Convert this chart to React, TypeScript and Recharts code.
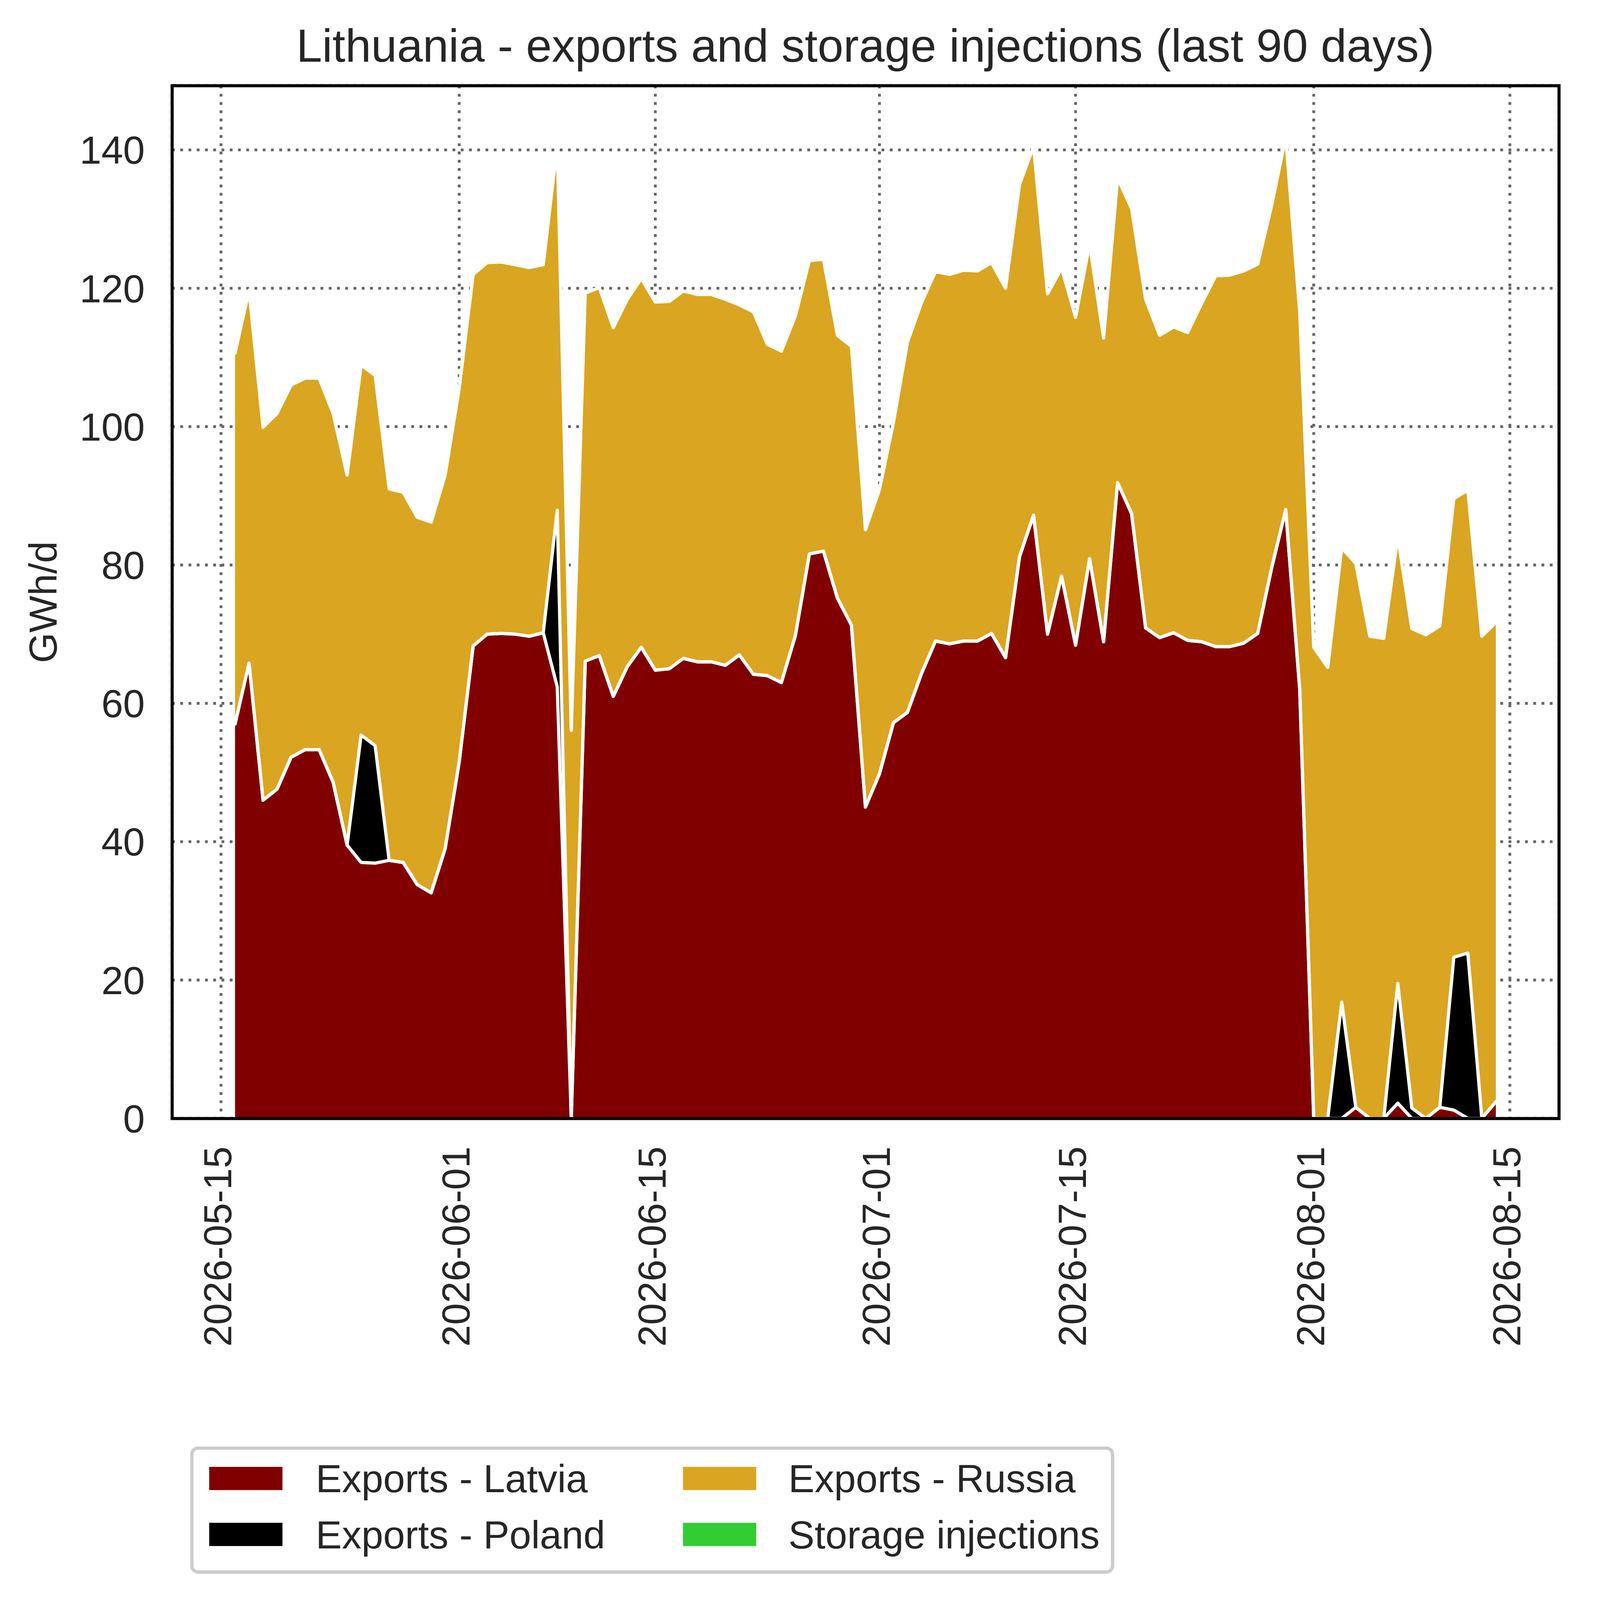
import React from "react";
import { ComposedChart, Area, Line, XAxis, YAxis, CartesianGrid } from "recharts";

const FONT = '"Liberation Sans", Arial, Helvetica, sans-serif';
const TEXT = "#262626";
const PAGE_W = 5675;
const PAGE_H = 5721;

// one value per day, 2026-05-16 .. 2026-08-14
const firstDate = "2026-05-16";
const dayCount = 91;

const latvia = [
  57.0, 65.8, 46.0, 47.6, 52.2, 53.3, 53.3, 48.6, 39.5, 37.0,
  36.9, 37.3, 37.0, 33.8, 32.6, 39.0, 51.5, 68.3, 70.0, 70.1,
  70.0, 69.7, 70.2, 62.4, 0, 66.1, 66.9, 61.0, 65.3, 68.1,
  64.8, 65.0, 66.5, 66.0, 66.0, 65.5, 67.0, 64.2, 64.0, 63.0,
  69.8, 81.6, 82.0, 75.2, 71.3, 45.0, 49.8, 57.2, 58.7, 64.3,
  69.0, 68.6, 69.0, 69.0, 70.1, 66.6, 81.2, 87.2, 70.0, 78.4,
  68.4, 80.9, 68.9, 91.9, 87.4, 70.9, 69.5, 70.2, 69.1, 68.9,
  68.2, 68.2, 68.7, 70.1, 79.6, 88.0, 62.0, 0, 0, 0,
  1.6, 0, 0, 2.2, 0, 0, 1.6, 1.2, 0, 0,
  2.4,
];

const poland = [
  0, 0, 0, 0, 0, 0, 0, 0, 0, 18.4,
  17.0, 0, 0, 0, 0, 0, 0, 0, 0, 0,
  0, 0, 0, 25.5, 0, 0, 0, 0, 0, 0,
  0, 0, 0, 0, 0, 0, 0, 0, 0, 0,
  0, 0, 0, 0, 0, 0, 0, 0, 0, 0,
  0, 0, 0, 0, 0, 0, 0, 0, 0, 0,
  0, 0, 0, 0, 0, 0, 0, 0, 0, 0,
  0, 0, 0, 0, 0, 0, 0, 0, 0, 16.8,
  0, 0, 0, 17.3, 1.5, 0, 0, 22.1, 23.9, 0,
  0,
];

const russia = [
  53.6, 53.9, 53.9, 54.3, 53.8, 53.7, 53.7, 53.3, 53.5, 53.5,
  53.5, 53.7, 53.5, 53.1, 53.6, 54.0, 54.0, 53.7, 53.7, 53.7,
  53.4, 53.3, 53.2, 52.7, 56.1, 53.2, 53.2, 53.3, 53.1, 53.3,
  53.2, 53.1, 53.1, 53.1, 53.1, 52.9, 50.6, 52.4, 47.9, 47.9,
  46.2, 42.4, 42.2, 38.0, 40.3, 40.1, 41.1, 43.4, 53.5, 53.6,
  53.4, 53.4, 53.6, 53.5, 53.6, 53.4, 53.8, 53.3, 49.2, 44.5,
  47.4, 45.5, 43.9, 44.0, 44.1, 47.5, 43.7, 44.2, 44.5, 48.9,
  53.6, 53.7, 53.8, 53.4, 52.4, 53.8, 54.5, 68.1, 65.2, 65.7,
  78.6, 69.7, 69.4, 64.6, 69.3, 69.9, 69.6, 66.3, 66.9, 69.7,
  69.3,
];

const storage = [
  0, 0, 0, 0, 0, 0, 0, 0, 0, 0,
  0, 0, 0, 0, 0, 0, 0, 0, 0, 0,
  0, 0, 0, 0, 0, 0, 0, 0, 0, 0,
  0, 0, 0, 0, 0, 0, 0, 0, 0, 0,
  0, 0, 0, 0, 0, 0, 0, 0, 0, 0,
  0, 0, 0, 0, 0, 0, 0, 0, 0, 0,
  0, 0, 0, 0, 0, 0, 0, 0, 0, 0,
  0, 0, 0, 0, 0, 0, 0, 0, 0, 0,
  0, 0, 0, 0, 0, 0, 0, 0, 0, 0,
  0,
];

const xTickLabels = [
  "2026-05-15",
  "2026-06-01",
  "2026-06-15",
  "2026-07-01",
  "2026-07-15",
  "2026-08-01",
  "2026-08-15",
];
const yTicks = [0, 20, 40, 60, 80, 100, 120, 140];

const legendItems = [
  { name: "Exports - Latvia", color: "#800000" },
  { name: "Exports - Poland", color: "#000000" },
  { name: "Exports - Russia", color: "#DAA520" },
  { name: "Storage injections", color: "#32CD32" },
];

// days counted from 2026-05-15, used as the numeric x axis
const ORIGIN = Date.UTC(2026, 4, 15);
const toDay = (s: string) => {
  const [y, m, d] = s.split("-").map(Number);
  return Math.round((Date.UTC(y, m - 1, d) - ORIGIN) / 86400000);
};
const fromDay = (n: number) =>
  new Date(ORIGIN + n * 86400000).toISOString().slice(0, 10);

const dates: string[] = [];
for (let i = 0; i < dayCount; i++) dates.push(fromDay(toDay(firstDate) + i));

const data = dates.map((date, i) => ({
  day: toDay(date),
  latvia: latvia[i],
  poland: poland[i],
  russia: russia[i],
  storage: storage[i],
  latviaTop: latvia[i],
  polandTop: latvia[i] + poland[i],
  totalTop: latvia[i] + poland[i] + russia[i] + storage[i],
}));

const xTicks = xTickLabels.map(toDay);

const XTick = (props: any) => {
  const { x, y, payload } = props;
  const ay = y + 100;
  return (
    <text
      x={x}
      y={ay}
      dy={37}
      transform={`rotate(-90, ${x}, ${ay})`}
      textAnchor="end"
      fontSize={140}
      fontFamily={FONT}
      fill={TEXT}
    >
      {fromDay(payload.value)}
    </text>
  );
};

const YLabel = () => (
  <text
    x={203}
    y={2153}
    transform="rotate(-90, 203, 2153)"
    textAnchor="middle"
    fontSize={140}
    fontFamily={FONT}
    fill={TEXT}
  >
    GWh/d
  </text>
);

const white = {
  type: "linear" as const,
  stroke: "#ffffff",
  strokeWidth: 11.5,
  strokeLinejoin: "round" as const,
  strokeLinecap: "round" as const,
  dot: false,
  activeDot: false,
  isAnimationActive: false,
  legendType: "none" as const,
};

const App = () => {
  // fit the 5675 x 5721 layout to whatever CSS viewport the page gets
  const scale =
    typeof window !== "undefined" && window.innerWidth
      ? Math.min(window.innerWidth / PAGE_W, window.innerHeight / PAGE_H)
      : 1;
  if (typeof document !== "undefined") {
    document.body.style.margin = "0";
    document.body.style.overflow = "hidden";
  }

  return (
    <div
      style={{
        position: "absolute",
        left: 0,
        top: 0,
        width: PAGE_W,
        height: PAGE_H,
        background: "#fff",
        fontFamily: FONT,
        color: TEXT,
        transform: `scale(${scale})`,
        transformOrigin: "0 0",
        overflow: "hidden",
      }}
    >
      <div
        style={{
          position: "absolute",
          left: 3094,
          top: 80,
          transform: "translateX(-50%)",
          fontSize: 166,
          lineHeight: "166px",
          whiteSpace: "nowrap",
        }}
      >
        Lithuania - exports and storage injections (last 90 days)
      </div>

      <ComposedChart
        width={PAGE_W}
        height={PAGE_H}
        data={data}
        margin={{ top: 306, right: 101, bottom: 1622, left: 515 }}
      >
        <CartesianGrid
          stroke="#666666"
          strokeWidth={10}
          strokeDasharray="10 19.5"
        />
        <XAxis
          dataKey="day"
          type="number"
          domain={[-3.5, 95.5]}
          allowDataOverflow
          ticks={xTicks}
          interval={0}
          height={100}
          tickSize={0}
          tickMargin={0}
          axisLine={false}
          tickLine={false}
          tick={XTick}
        />
        <YAxis
          type="number"
          domain={[0, 149.3]}
          allowDataOverflow
          ticks={yTicks}
          interval={0}
          width={100}
          tickSize={0}
          tickMargin={97}
          axisLine={false}
          tickLine={false}
          tick={{ fontSize: 140, fill: TEXT, fontFamily: FONT }}
          label={<YLabel />}
        />
        <Area
          type="linear"
          dataKey="latvia"
          stackId="s"
          fill="#800000"
          fillOpacity={1}
          stroke="none"
          isAnimationActive={false}
        />
        <Area
          type="linear"
          dataKey="poland"
          stackId="s"
          fill="#000000"
          fillOpacity={1}
          stroke="none"
          isAnimationActive={false}
        />
        <Area
          type="linear"
          dataKey="russia"
          stackId="s"
          fill="#DAA520"
          fillOpacity={1}
          stroke="none"
          isAnimationActive={false}
        />
        <Area
          type="linear"
          dataKey="storage"
          stackId="s"
          fill="#32CD32"
          fillOpacity={1}
          stroke="none"
          isAnimationActive={false}
        />
        <Line dataKey="latviaTop" {...white} />
        <Line dataKey="polandTop" {...white} />
        <Line dataKey="totalTop" {...white} />
      </ComposedChart>

      {/* axes frame */}
      <div
        style={{
          position: "absolute",
          left: 609.5,
          top: 300.5,
          width: 4970,
          height: 3704,
          border: "11px solid #000",
          boxSizing: "border-box",
          pointerEvents: "none",
        }}
      />

      {/* legend */}
      <div
        style={{
          position: "absolute",
          left: 680,
          top: 5172,
          width: 3304,
          height: 455,
          border: "12px solid #cccccc",
          borderRadius: 28,
          boxSizing: "border-box",
          background: "#fff",
        }}
      />
      {legendItems.map((item, i) => {
        const col = Math.floor(i / 2);
        const row = i % 2;
        const px = col === 0 ? 748 : 2442;
        const tx = col === 0 ? 1129 : 2819;
        const py = row === 0 ? 5245 : 5445;
        const ty = row === 0 ? 5218 : 5418;
        return (
          <React.Fragment key={item.name}>
            <div
              style={{
                position: "absolute",
                left: px,
                top: py,
                width: 262,
                height: 83,
                background: item.color,
              }}
            />
            <div
              style={{
                position: "absolute",
                left: tx,
                top: ty,
                fontSize: 140,
                lineHeight: "140px",
                whiteSpace: "nowrap",
              }}
            >
              {item.name}
            </div>
          </React.Fragment>
        );
      })}
    </div>
  );
};

export default App;
